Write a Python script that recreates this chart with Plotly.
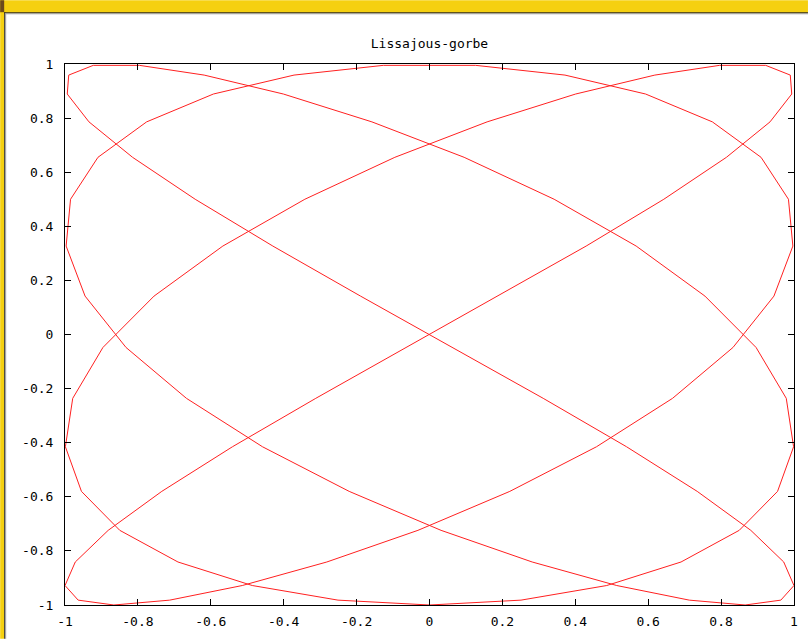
import plotly.graph_objects as go

# Lissajous curve vertices
curve_x = [
    0.0, 0.2511, 0.4862, 0.6901, 0.8497, 0.9549, 0.9989, 0.9788, 0.8960, 0.7557,
    0.5670, 0.3420, 0.0951, -0.1580, -0.4009, -0.6182, -0.7958, -0.9224, -0.9898, -0.9938,
    -0.9342, -0.8146, -0.6428, -0.4298, -0.1893, 0.0634, 0.3120, 0.5406, 0.7345, 0.8815,
    0.9718, 0.9999, 0.9639, 0.8660, 0.7127, 0.5137, 0.2817, 0.0317, -0.2203, -0.4582,
    -0.6668, -0.8326, -0.9450, -0.9969, -0.9848, -0.9096, -0.7761, -0.5929, -0.3717, -0.1266,
    0.1266, 0.3717, 0.5929, 0.7761, 0.9096, 0.9848, 0.9969, 0.9450, 0.8326, 0.6668,
    0.4582, 0.2203, -0.0317, -0.2817, -0.5137, -0.7127, -0.8660, -0.9639, -0.9999, -0.9718,
    -0.8815, -0.7345, -0.5406, -0.3120, -0.0634, 0.1893, 0.4298, 0.6428, 0.8146, 0.9342,
    0.9938, 0.9898, 0.9224, 0.7958, 0.6182, 0.4009, 0.1580, -0.0951, -0.3420, -0.5670,
    -0.7557, -0.8960, -0.9788, -0.9989, -0.9549, -0.8497, -0.6901, -0.4862, -0.2511, 0.0,
]
curve_y = [
    -1.0, -0.982, -0.928, -0.841, -0.724, -0.580, -0.415, -0.236, -0.048, 0.142,
    0.327, 0.500, 0.655, 0.786, 0.889, 0.959, 0.995, 0.995, 0.959, 0.889,
    0.786, 0.655, 0.500, 0.327, 0.142, -0.048, -0.236, -0.415, -0.580, -0.724,
    -0.841, -0.928, -0.982, -1.0, -0.982, -0.928, -0.841, -0.724, -0.580, -0.415,
    -0.236, -0.048, 0.142, 0.327, 0.500, 0.655, 0.786, 0.889, 0.959, 0.995,
    0.995, 0.959, 0.889, 0.786, 0.655, 0.500, 0.327, 0.142, -0.048, -0.236,
    -0.415, -0.580, -0.724, -0.841, -0.928, -0.982, -1.0, -0.982, -0.928, -0.841,
    -0.724, -0.580, -0.415, -0.236, -0.048, 0.142, 0.327, 0.500, 0.655, 0.786,
    0.889, 0.959, 0.995, 0.995, 0.959, 0.889, 0.786, 0.655, 0.500, 0.327,
    0.142, -0.048, -0.236, -0.415, -0.580, -0.724, -0.841, -0.928, -0.982, -1.0,
]

tick_vals = [-1, -0.8, -0.6, -0.4, -0.2, 0, 0.2, 0.4, 0.6, 0.8, 1]
tick_text = ["-1", "-0.8", "-0.6", "-0.4", "-0.2", "0", "0.2", "0.4", "0.6", "0.8", "1"]
title_text = "Lissajous-gorbe"

W, H = 810, 641
ML, MR, MT, MB = 65, 14, 64, 34
PW, PH = W - ML - MR, H - MT - MB


def px(x):
    return (x - ML) / PW


def py(y):
    return (H - MB - y) / PH


def rect(x0, y0, x1, y1, color):
    return dict(type="rect", xref="paper", yref="paper",
                x0=px(x0), x1=px(x1), y0=py(y1), y1=py(y0),
                fillcolor=color, line=dict(width=0), layer="above")


YEL = "#F5D010"
shapes = [
    rect(0, 0, W, 13, YEL),
    rect(0, 0, 4, 641, YEL),
    rect(0, 0, 4, 12, "#6B4A1C"),
    rect(4, 12, W, 13, "#2E2A20"),
    rect(4, 12, 5, H, "#2E2A20"),
    rect(5, 13, W, 14, "#9A9A9A"),
    rect(5, 13, 6, H, "#9A9A9A"),
]

fig = go.Figure()
fig.add_trace(go.Scatter(x=curve_x, y=curve_y, mode="lines",
                         line=dict(color="#FF2020", width=1), showlegend=False,
                         hoverinfo="skip"))

mono = "DejaVu Sans Mono"
axis_common = dict(
    range=[-1, 1], tickvals=tick_vals, ticktext=tick_text,
    showgrid=False, zeroline=False, showline=True, linecolor="#000000", linewidth=1,
    mirror="ticks", ticks="inside", ticklen=6, tickcolor="#000000", tickwidth=1,
    tickfont=dict(family=mono, size=13, color="#000000"),
)

fig.update_layout(
    width=W, height=H,
    margin=dict(l=ML, r=MR, t=MT, b=MB),
    paper_bgcolor="white", plot_bgcolor="white",
    title=dict(text=title_text, x=px(430.5), xref="paper", xanchor="center",
               y=1 - 43 / H, yref="container", yanchor="middle",
               font=dict(family=mono, size=13, color="#000000")),
    xaxis=dict(**axis_common, ticklabelstandoff=4),
    yaxis=dict(**axis_common, ticklabelstandoff=8),
    shapes=shapes,
)

fig.write_html("out.html", config={"displayModeBar": False},
               post_script="document.body.style.margin='0';document.body.style.overflow='hidden';")
